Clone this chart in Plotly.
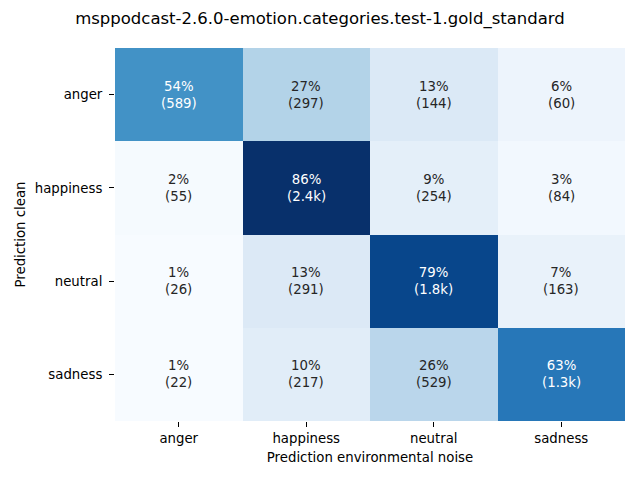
import plotly.graph_objects as go

labels = ["anger", "happiness", "neutral", "sadness"]
counts_anger = [589, 297, 144, 60]
counts_happiness = [55, 2400, 254, 84]
counts_neutral = [26, 291, 1800, 163]
counts_sadness = [22, 217, 529, 1300]
rows = [counts_anger, counts_happiness, counts_neutral, counts_sadness]

title = "msppodcast-2.6.0-emotion.categories.test-1.gold_standard"
xlabel = "Prediction environmental noise"
ylabel = "Prediction clean"

blues = ['#f7fbff', '#deebf7', '#c6dbef', '#9ecae1', '#6baed6',
         '#4292c6', '#2171b5', '#08519c', '#08306b']


def hex2rgb(h):
    return tuple(int(h[i:i + 2], 16) / 255 for i in (1, 3, 5))


def cmap(t):
    t = min(max(t, 0.0), 1.0)
    pos = t * (len(blues) - 1)
    i = min(int(pos), len(blues) - 2)
    f = pos - i
    a, b = hex2rgb(blues[i]), hex2rgb(blues[i + 1])
    return tuple(a[k] + (b[k] - a[k]) * f for k in range(3))


def lum(c):
    def ch(v):
        return v / 12.92 if v <= 0.03928 else ((v + 0.055) / 1.055) ** 2.4
    r, g, b = (ch(v) for v in c)
    return 0.2126 * r + 0.7152 * g + 0.0722 * b


def fmt(n):
    return f"{n/1000:.1f}k" if n >= 1000 else str(n)


pct = [[v / sum(r) * 100 for v in r] for r in rows]
zmin = min(min(r) for r in pct)
zmax = max(max(r) for r in pct)

colorscale = [[i / (len(blues) - 1), c] for i, c in enumerate(blues)]

fig = go.Figure(go.Heatmap(
    z=pct, x=labels, y=labels, colorscale=colorscale, zmin=zmin, zmax=zmax,
    showscale=False, hoverinfo="skip", xgap=0, ygap=0,
))

annotations = []
for i, r in enumerate(rows):
    for j, v in enumerate(r):
        p = pct[i][j]
        c = cmap((p - zmin) / (zmax - zmin))
        color = "#262626" if lum(c) > 0.408 else "white"
        annotations.append(dict(
            x=labels[j], y=labels[i], xref="x", yref="y",
            text=f"{p:.0f}%<br>({fmt(v)})", showarrow=False,
            font=dict(family="DejaVu Sans", size=13.3, color=color),
        ))

fig.update_layout(
    width=640, height=480,
    margin=dict(l=115, r=15, t=48, b=59),
    paper_bgcolor="white", plot_bgcolor="white",
    font=dict(family="DejaVu Sans", size=13.3, color="black"),
    title=dict(text=title, x=0.5, xanchor="center",
               y=1 - 18 / 480, yanchor="middle", yref="container",
               font=dict(size=16.5, color="black")),
    annotations=annotations,
)
fig.update_layout(title_xref="container")
fig.update_xaxes(ticks="outside", ticklen=5, tickcolor="black", showgrid=False,
                 zeroline=False, showline=False, ticklabelstandoff=0,
                 title=dict(text=xlabel, standoff=7, font=dict(size=13.3)))
fig.update_yaxes(ticks="outside", ticklen=5, tickcolor="black", showgrid=False,
                 zeroline=False, showline=False, autorange="reversed",
                 ticklabelstandoff=4,
                 title=dict(text=ylabel, standoff=6, font=dict(size=13.3)))

fig.write_html("out.html")
